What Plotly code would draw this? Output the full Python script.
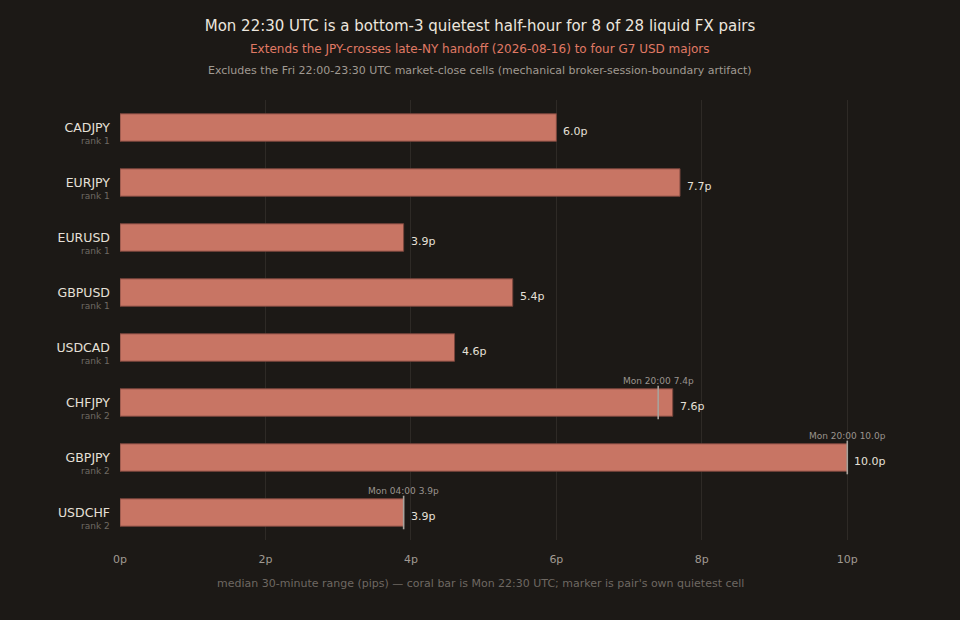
import plotly.graph_objects as go

# pares ordenados de arriba a abajo
pares = ["CADJPY", "EURJPY", "EURUSD", "GBPUSD", "USDCAD", "CHFJPY", "GBPJPY", "USDCHF"]
rangos = ["rank 1", "rank 1", "rank 1", "rank 1", "rank 1", "rank 2", "rank 2", "rank 2"]
valores = [6.0, 7.7, 3.9, 5.4, 4.6, 7.6, 10.0, 3.9]

# celda mas tranquila propia de cada par (solo los de rank 2)
pares_marca = ["CHFJPY", "GBPJPY", "USDCHF"]
celda_marca = ["Mon 20:00", "Mon 20:00", "Mon 04:00"]
valor_marca = [7.4, 10.0, 3.9]

ticks_x = [0, 2, 4, 6, 8, 10]

fondo = "#1c1916"
coral = "#c87564"

fig = go.Figure()

fig.add_trace(go.Bar(
    x=valores, y=pares, orientation="h",
    width=0.5,
    marker=dict(color=coral, line=dict(color="#7a463c", width=1)),
    hoverinfo="skip",
))

fig.add_trace(go.Scatter(
    x=valor_marca, y=pares_marca, mode="markers",
    marker=dict(symbol="line-ns", size=24, color="#a8a29c",
                line=dict(color="#a8a29c", width=1.6)),
    hoverinfo="skip",
    cliponaxis=False,
))

# etiquetas de valor a la derecha de cada barra
for p, v in zip(pares, valores):
    fig.add_annotation(
        x=v, y=p, xref="x", yref="y", text=f"{v:.1f}p",
        showarrow=False, xanchor="left", yanchor="middle",
        xshift=5, yshift=-4,
        font=dict(size=11, color="#e6e0d8"),
    )

# rank bajo el nombre del par
for p, r in zip(pares, rangos):
    fig.add_annotation(
        x=-0.011, y=p, xref="paper", yref="y", text=r,
        showarrow=False, xanchor="right", yanchor="middle", yshift=-13,
        font=dict(size=9, color="#6f6963"),
    )

for p, c, v in zip(pares_marca, celda_marca, valor_marca):
    fig.add_annotation(
        x=v, y=p, xref="x", yref="y",
        text=f"{c} {v:.1f}p", showarrow=False, yanchor="middle",
        yshift=22, font=dict(size=9, color="#9a948e"),
    )

fig.add_annotation(
    xref="paper", yref="paper", x=0.474, y=1.116, yanchor="middle",
    text="Extends the JPY-crosses late-NY handoff (2026-08-16) to four G7 USD majors",
    showarrow=False, font=dict(size=12, color="#e07a65"),
)
fig.add_annotation(
    xref="paper", yref="paper", x=0.474, y=1.068, yanchor="middle",
    text="Excludes the Fri 22:00-23:30 UTC market-close cells (mechanical broker-session-boundary artifact)",
    showarrow=False, font=dict(size=11, color="#a09a92"),
)
fig.add_annotation(
    xref="paper", yref="paper", x=0.474, y=-0.098, yanchor="middle",
    text="median 30-minute range (pips) \u2014 coral bar is Mon 22:30 UTC; marker is pair's own quietest cell",
    showarrow=False, font=dict(size=11, color="#6e6862"),
)

fig.update_layout(
    width=960, height=620,
    paper_bgcolor=fondo, plot_bgcolor=fondo,
    font=dict(family="DejaVu Sans", color="#e6e0d8"),
    margin=dict(l=120, r=80, t=100, b=80),
    showlegend=False,
    title=dict(
        text="Mon 22:30 UTC is a bottom-3 quietest half-hour for 8 of 28 liquid FX pairs",
        x=0.5, xanchor="center", y=1 - 26 / 620, yanchor="middle",
        font=dict(size=15, color="#ece6de"),
    ),
    xaxis=dict(
        range=[0, 10.45],
        tickvals=ticks_x,
        ticktext=[f"{t}p" for t in ticks_x],
        tickfont=dict(size=11, color="#a09a92"),
        showgrid=True, gridcolor="#2e2a26", gridwidth=1,
        zeroline=False, showline=False,
        ticks="", ticklabelstandoff=11,
    ),
    yaxis=dict(
        categoryorder="array", categoryarray=pares,
        range=[len(pares) - 0.5, -0.5],
        tickvals=pares, ticktext=pares,
        tickfont=dict(size=12.5, color="#e6e0d8"),
        showgrid=False, zeroline=False,
        ticks="", ticklabelstandoff=9,
    ),
)

fig.write_html(
    "out.html",
    config={"displayModeBar": False},
    post_script="document.body.style.margin='0';document.body.style.background='#1c1916';",
)
